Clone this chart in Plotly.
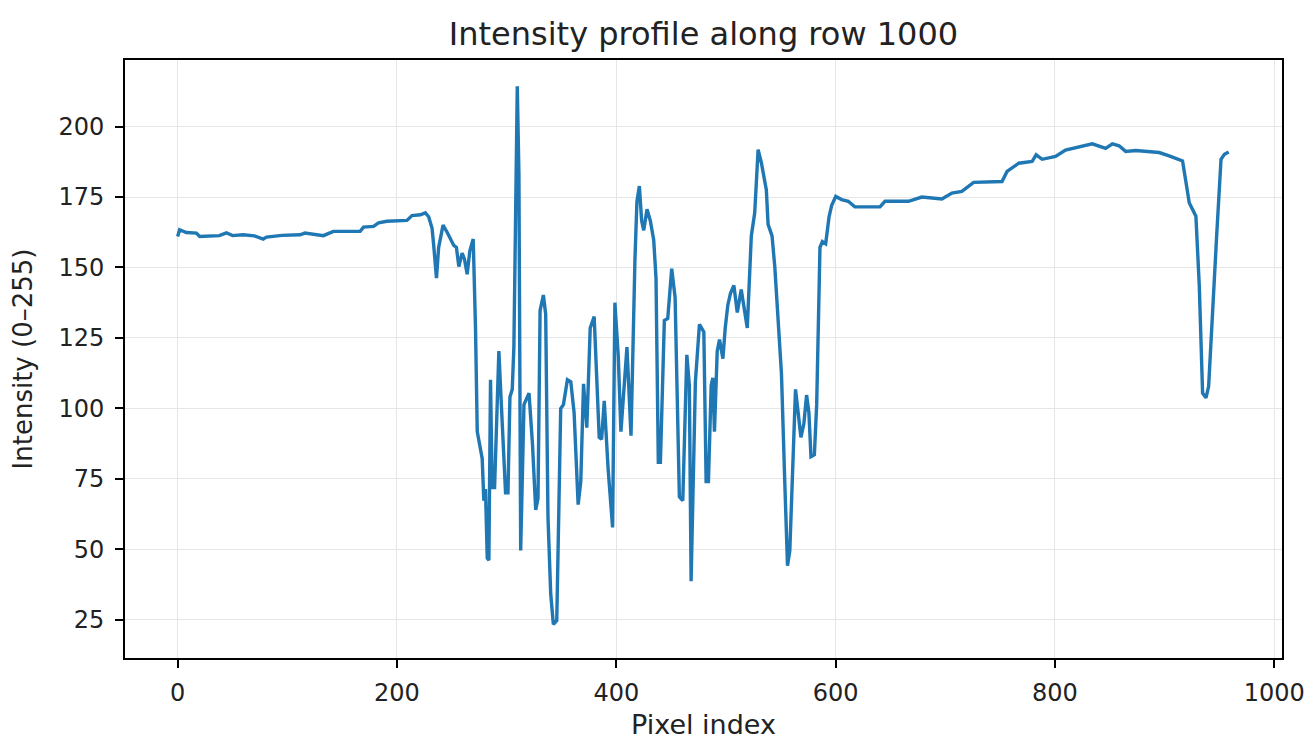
import plotly.graph_objects as go

# Pixel index (x) and intensity (y)
pixel_index = [
    0, 1.8, 7.9, 17.1, 20.1, 30, 38, 44.5, 50, 59.7, 70, 78, 81.1, 95, 111.6, 116.1,
    132.9, 142, 166.4, 169.5, 178.6, 183.2, 190.8, 209.1, 213.7, 221.3, 225.9, 228.9,
    232, 233.5, 236, 238, 242, 245.7, 249.4, 251.8, 254.2, 256.4, 259.4, 261.5, 264,
    266.4, 269.5, 271.6, 273.2, 275.5, 277.7, 279.2, 280.7, 282.3, 283.8, 285.3, 286.8,
    289, 292.9, 296, 299, 301.2, 303, 305.1, 306.6, 309.7, 311.2, 312.8, 315.8, 320.4,
    323.5, 326.5, 328.6, 330.5, 333.5, 335.6, 337.7, 340.2, 342.6, 345.7, 349.3, 351.8,
    355.4, 358.5, 361.5, 365.2, 367.6, 370.1, 373.1, 376.2, 379.8, 384.4, 386.6, 389,
    392.6, 396.6, 398.7, 401.8, 404.2, 409.7, 413.4, 417, 418.8, 421, 423.1, 425, 428,
    431, 434.1, 436.2, 438.3, 440.2, 443.8, 446.9, 450.5, 453.6, 457.5, 460.6, 464.3,
    466.6, 468.2, 472.1, 475.8, 479.8, 481.9, 484, 486.5, 488, 489.5, 492, 494.1, 497.2,
    499.3, 501.7, 504.1, 507.2, 510.3, 513.9, 517, 519.4, 523.1, 526.2, 529.3, 532.3,
    536.8, 538.4, 542, 544.5, 546.9, 550.6, 553.6, 556.1, 558.2, 561.3, 563.4, 565.8,
    568.3, 571, 573.5, 575.6, 577.5, 580.6, 582.7, 585.7, 587.9, 590.9, 594, 596.4,
    600.1, 605.4, 611.5, 617.5, 640.4, 645, 666.4, 678.6, 696.9, 706, 715.1, 725.8,
    751.7, 756.3, 766.9, 779.1, 782.8, 788.3, 800.5, 809.6, 821.9, 834, 846.2, 852.3,
    858.4, 864.5, 873.6, 885.8, 895, 904.1, 916.3, 920, 922.4, 928.5, 931.6, 934.6,
    937.7, 940.1, 944.4, 947.4, 951.4, 954.5, 958.4,
]
intensity = [
    161, 163.4, 162.4, 162.2, 161, 161.2, 161.3, 162.3, 161.3, 161.6, 161.2, 160.1, 160.8,
    161.4, 161.6, 162.2, 161.3, 162.8, 162.8, 164.3, 164.6, 165.8, 166.4, 166.7, 168.4,
    168.7, 169.4, 168, 163.9, 157.8, 146.2, 157.1, 165, 162.5, 159.8, 157.8, 157.1,
    150.3, 155.1, 153, 147.6, 155.8, 160.1, 128.5, 91.7, 87, 82.2, 67.2, 71.3, 46.8,
    46.1, 110.1, 71.9, 71.9, 120.3, 94.5, 70, 70, 104, 106.7, 121.7, 214.3, 183, 49.5,
    101.3, 105.4, 87.6, 63.9, 68, 134.7, 140.2, 133.4, 61.2, 34, 23.3, 24.6, 99.9,
    101.3, 110.1, 109.4, 98.5, 65.8, 74, 108.7, 93.1, 128.5, 132.6, 89.7, 89, 102.6,
    78.1, 57.7, 137.5, 118.4, 91.7, 121.7, 90.3, 153, 173.4, 178.9, 166.6, 163.2, 170.7,
    166.6, 159.8, 146.2, 80.8, 80.8, 131.2, 131.9, 149.6, 139.4, 68.6, 67.2, 119, 108.1,
    38.6, 109.4, 129.8, 127.1, 74, 74, 108.1, 110.8, 91.7, 120.3, 124.4, 117.6, 128.5,
    136.7, 140.8, 143.6, 134, 142.2, 135.3, 128.5, 161.2, 169.4, 191.8, 187.1, 177.5,
    165.3, 161.2, 150.3, 135.3, 112.2, 74, 44.1, 49.5, 87.6, 106.7, 98.5, 89.7, 94.5,
    104.7, 98.5, 82.8, 83.5, 101.3, 157.1, 159.2, 158.4, 168, 172.1, 175.2, 174.1,
    173.5, 171.5, 171.5, 173.5, 173.5, 175, 174.3, 176.4, 177, 180.2, 180.5, 184.1,
    187, 187.6, 190, 188.4, 189.4, 191.7, 192.9, 193.9, 192.3, 193.9, 193.2, 191.2,
    191.5, 191.2, 190.8, 189.6, 187.8, 178.9, 173, 168.2, 143.3, 105.4, 103.7, 107.8,
    141, 161.1, 188.4, 190.2, 191,
]

x_ticks = [0, 200, 400, 600, 800, 1000]
y_ticks = [25, 50, 75, 100, 125, 150, 175, 200]

fig = go.Figure()
fig.add_trace(go.Scatter(
    x=pixel_index, y=intensity, mode="lines",
    line=dict(color="#1f77b4", width=3.4),
    showlegend=False,
))

font_family = "DejaVu Sans"
axis_common = dict(
    showline=True, linecolor="black", linewidth=1.8, mirror=True,
    ticks="outside", ticklen=8, tickwidth=1.8, tickcolor="black",
    showgrid=True, gridcolor="#e6e6e6", gridwidth=1,
    zeroline=False, automargin=False,
    tickfont=dict(family=font_family, size=24, color="#222"),
)

fig.update_layout(
    width=1308, height=740,
    margin=dict(l=125, r=26, t=60, b=82),
    paper_bgcolor="white", plot_bgcolor="white",
    font=dict(family=font_family, color="#222"),
    title=dict(text="Intensity profile along row 1000", x=(125 + 1282) / 2 / 1308,
               xanchor="center", y=1 - 34 / 740, yanchor="middle",
               font=dict(family=font_family, size=32, color="#222")),
    xaxis=dict(range=[-48, 1007], tickvals=x_ticks, ticklabelstandoff=4,
               title=dict(text="Pixel index", font=dict(family=font_family, size=27), standoff=12),
               **axis_common),
    yaxis=dict(range=[11.35, 223.65], tickvals=y_ticks, ticklabelstandoff=6,
               title=dict(text="Intensity (0–255)", font=dict(family=font_family, size=26), standoff=18),
               **axis_common),
)

fig.write_html("out.html")
